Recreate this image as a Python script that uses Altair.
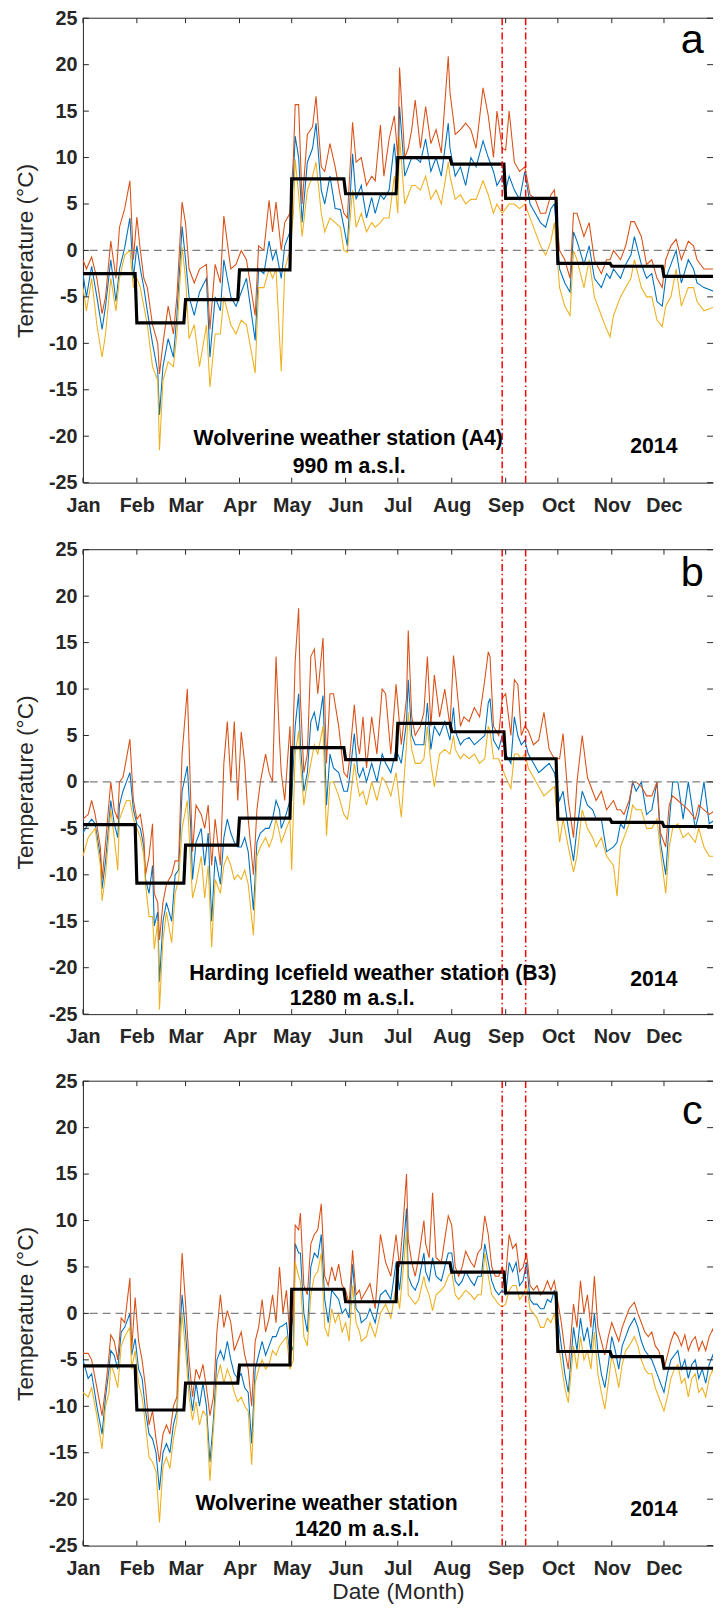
import altair as alt
import pandas as pd

MONTH_NAMES = ["Jan", "Feb", "Mar", "Apr", "May", "Jun", "Jul", "Aug", "Sep", "Oct", "Nov", "Dec"]
MONTH_START = [0, 31, 59, 90, 120, 151, 181, 212, 243, 273, 304, 334]
Y_TICKS = [-25, -20, -15, -10, -5, 0, 5, 10, 15, 20, 25]
MARKER_DAYS = [241, 254.5]

# ---------------- Panel a : Wolverine A4, 990 m ----------------
A_DAY = [0, 2, 5, 8, 11, 13, 16, 19, 21, 24,
         27, 29, 31, 33, 35, 37, 40, 43, 44, 46,
         49, 52, 54, 57, 59, 61, 64, 67, 71, 73,
         76, 79, 81, 85, 88, 91, 94, 99, 101, 104,
         107, 109, 111, 114, 116, 119, 121, 122, 124, 126,
         129, 132, 134, 137, 139, 142, 145, 148, 150, 152,
         155, 157, 160, 163, 166, 168, 171, 173, 176, 179,
         181, 182, 185, 187, 189, 191, 194, 197, 200, 203,
         206, 210, 211, 214, 217, 220, 223, 226, 230, 233,
         236, 238, 241, 243, 245, 248, 251, 254, 257, 260,
         263, 266, 269, 271, 274, 277, 280, 282, 284, 288,
         291, 294, 298, 301, 303, 305, 309, 312, 315, 317,
         321, 324, 327, 330, 333, 335, 338, 341, 344, 348,
         351, 353, 357, 364]
A_MAX = [-1, -2, -0.7, -3, -6.8, -5, 1, -3, 2.5, 4.5,
         7.5, -1, 3.6, 0, -3, -4, -8, -10, -13.3, -10,
         -6, -9, -5, 5.2, 2.9, -2, -3.5, -2, -1.5, -8.5,
         -1.5, -3.5, 3.7, -2, -1.5, 0, -1, -7, 0.5, 0,
         5.4, 2, 5.2, 0, 3, 4, 10, 15.7, 15.7, 5,
         12.5, 13.3, 16.6, 9, 8.5, 11.5, 9, 5.8, 4, 3.5,
         13.8, 9.5, 10, 7, 8, 7.5, 13.5, 8, 12, 14.5,
         10, 19.7, 10, 11, 13, 16.2, 11, 15.5, 11.5, 13,
         10.5, 20.9, 17, 12.5, 13, 13.7, 13, 11, 17.5, 14.5,
         10, 15, 11, 10.8, 15, 9.5, 8.5, 9, 6, 5.5,
         4, 4, 6, 6.5, 0, -1, -3, 4, 4, 1.5,
         3, -1, -2.5, -1, -1, 0, -1, 0.5, 3.1, 3.1,
         1.5, -1.5, -1, -3, -4, -1, 0.5, 1.2, -1, 1,
         0.5, -1, -2, -2]
A_MEAN = [-2.5, -5, -1.7, -5, -8.5, -6, -1, -5.5, -2, 0.3,
          3.5, -3, 0.5, -2, -4, -6.5, -10, -13, -17.7, -12.5,
          -9.5, -11.5, -7, 2.6, -1, -5, -7, -4.5, -3, -11.5,
          -5, -6.5, -1, -5, -6, -4.5, -3, -9.7, -2, -2.5,
          1, -1, 0, -3, 0.5, 2, 8, 12.3, 10, 3,
          9.5, 11, 13.7, 6.5, 5, 8, 4.5, 4.4, 2.5, 0.5,
          10.4, 5.5, 7, 3.5, 5.7, 4, 6, 5.5, 6.5, 11.5,
          7, 15.5, 8, 9, 10, 10, 9.5, 12, 8.5, 10,
          8, 13.7, 11, 8, 9, 7, 10, 9, 11.8, 10,
          8.5, 7, 8, 6.5, 8, 6.5, 5.5, 8.5, 5, 4,
          3, 2.5, 4.5, 5, -2, -3.5, -4.5, 2, 1, -1.5,
          0.5, -3, -4, -2.5, -3, -2, -3, -1.5, -0.5, 1.5,
          -1.5, -3, -2.5, -5.5, -6, -3, -1.5, 0, -3.5, -1,
          -2, -3.5, -4, -4.5]
A_MIN = [-4, -6.5, -3, -8, -11.5, -9, -3, -6.5, -3, -0.5,
         0, -4, -3, -4, -6, -8, -12.5, -14, -21.5, -14,
         -12, -12.5, -9, 0.4, -3, -9.5, -8, -12.5, -8, -14.7,
         -9, -9, -5, -8, -9, -7.5, -8, -13.2, -4, -4,
         -2, -3, -2, -13, -2, 0, 4, 9.8, 6, 1.5,
         6.5, 8, 9.5, 4, 2, 3.5, 3, 2.5, 0, -0.2,
         6.5, 2.5, 4, 2, 3, 2.5, 3, 3.5, 3.5, 8,
         4, 12.2, 5, 6, 7, 7, 6.5, 8, 5.5, 6.5,
         5, 9.5, 8, 5.5, 6, 5, 5.5, 5.5, 7.5, 6,
         4, 5, 4, 4.5, 5, 5, 4.5, 5, 3.5, 2,
         0.5, -0.5, 1, 3, -4, -6, -7, 0, -1, -4,
         -1, -5, -7, -8.5, -9.3, -7, -5, -4, -3, -1,
         -4, -5, -5, -7.5, -8.2, -6, -5, -2, -6, -4,
         -4, -5.5, -6.5, -6]
A_MONTH = [-2.5, -7.8, -5.3, -2.1, 7.7, 6.1, 10.0, 9.3, 5.6, -1.4, -1.7, -2.8]

# ---------------- Panel b : Harding Icefield B3, 1280 m ----------------
B_DAY = [0, 3, 5, 7, 10, 11, 13, 16, 18, 20,
         21, 23, 25, 27, 29, 31, 33, 35, 36, 38,
         40, 41, 43, 44, 46, 48, 51, 53, 55, 57,
         60, 62, 63, 65, 68, 70, 72, 74, 76, 79,
         81, 83, 85, 87, 89, 91, 93, 95, 98, 100,
         102, 105, 107, 109, 111, 113, 114, 116, 119, 120,
         122, 124, 125, 127, 129, 131, 133, 135, 138, 140,
         142, 144, 147, 150, 152, 153, 156, 158, 159, 161,
         163, 166, 169, 172, 174, 177, 180, 183, 186, 187,
         189, 191, 194, 196, 198, 200, 202, 205, 208, 211,
         213, 214, 217, 219, 222, 225, 228, 231, 233, 234,
         236, 239, 241, 243, 246, 248, 250, 252, 254, 256,
         259, 262, 265, 268, 271, 274, 276, 279, 282, 284,
         287, 290, 293, 295, 298, 301, 305, 307, 309, 311,
         314, 316, 318, 321, 324, 327, 330, 332, 335, 337,
         339, 342, 345, 348, 352, 354, 357, 360, 364]
B_MAX = [-4, -3.5, -2, -3.5, -7, -10.5, -6.5, 0, -3, -4,
         0, 0.5, 2.5, 4.6, -2, -4, -3.5, -6, -10, -8,
         -4.5, -12, -13, -17, -13, -11, -10, -8.5, -8.5, 3,
         10, -2, -7.5, -2.5, -3.5, -5, -2.5, -9, -4, -9,
         2, 6.5, 0, 6.5, -2, 5.4, 2, -4, -10, -3,
         0, 3, 1, 0, 13.5, 4.5, 1, -2, 6, 0,
         13, 18.7, 9, 1, 3, 13.5, 14.3, 9.5, 15.5, 2,
         9.5, 9.5, 6, 1, 0.5, 2, 8.3, 4, 3, 7,
         1.5, 7, 3, 10, 9.5, 3, 10.5, 4, 9, 16.3,
         7, 5, 6, 7.5, 13.5, 6, 11.5, 7, 10, 6,
         13.6, 12, 6, 7, 6.5, 8, 7, 11, 14, 13.5,
         6, 5, 9, 9.5, 5, 11, 10.5, 5, 6, 5.5,
         4, 4.5, 7.5, 3.5, 2.5, 2.5, 5.2, -2, -6, 0,
         5, 0.5, -1, -2, -1, -3, -2, -3, -3, -3.5,
         -2, 0, 0, -0.5, -1.5, -1.5, 0, -5.5, -7, -2.5,
         -1.5, -2, -2.5, -3, -4, -2.5, -3, -3.5, -3]
B_MEAN = [-5.5, -4.5, -4, -4.5, -8, -11.5, -8.5, -2, -4.5, -6,
          -2.5, -1, 0, 1, -3, -4.5, -5, -7, -10.5, -12,
          -9, -15.5, -14, -21.5, -15, -13, -15, -10, -9.5, -1,
          1.7, -5, -10.5, -6.5, -5, -9, -5.5, -15, -8, -11,
          -6, -4, -5.5, -6.5, -7, -7, -6, -7.5, -13.8, -6.5,
          -5.5, -5, -5, -4, -2, -3, -5, -4, -2, -2,
          6, 9.5, 4, -1, 1, 6.5, 7.5, 5.5, 9.3, -2.5,
          3, 1.5, 1, -1, -1, 0, 5.2, 1, 0.5, 1.5,
          0, 2, 0, 3, 2, 1, 3.5, 2, 6.5, 11,
          5, 4, 4, 4, 8.5, 3.5, 6, 5, 6.5, 4.5,
          8, 5.5, 4, 4.5, 4.8, 4, 4.5, 5, 8.5, 9,
          4.5, 3.5, 5, 3, 2, 7, 5, 4, 4.5, 3,
          2, 1, 1.5, 2, 1, -2, -1, -5, -8.5, -5,
          -1, -2.5, -3, -4, -4, -7.5, -7, -6.5, -4.5, -5,
          -2.5, 0, -1, 0, -3.5, -3, 0, -6.5, -10, -4.5,
          0, 0, -4, 0, -5, -3.5, 0, -4.5, -4]
B_MIN = [-8, -6, -5.5, -5, -9, -12.8, -10, -3, -6, -9.5,
         -4, -3, -2, -2, -4, -5, -6, -8, -11, -14.5,
         -14.5, -18, -15, -24.5, -17, -14, -17.3, -12, -10.5, -5,
         -2, -9, -12.5, -11, -8, -12.5, -9, -17.8, -10.5, -12,
         -9, -8, -9, -10.5, -10, -10.5, -9.5, -11, -16.5, -8,
         -7, -6, -7, -6, -4, -5.5, -6.5, -5.5, -4, -9.5,
         3, 5.5, 2, -2.5, 0, 2, 4, 3, 6, -5.8,
         0, 0, -1.5, -3.5, -4, -3, 2, -0.5, -1.5, -1,
         -2.5, 0, -2, 0.5, 0, -1.5, 1, -3.8, 4, 7.5,
         3.5, 2, 2, 2.5, 6, 2, -0.5, 3, 3.5, 3,
         5, 3.5, 2.5, 3, 2.5, 3, 2, 2.5, 6, 5.5,
         2.5, 2.5, 1.5, 0.5, -0.7, 3, 3, 2.5, 3, 1.5,
         0.5, -0.5, -1.5, -1, -0.5, -6.5, -4, -7, -9.7, -8,
         -3, -5, -6, -7, -6, -8, -9, -12.3, -7, -6,
         -4.5, -2.5, -3, -3, -5, -5, -4, -7.5, -12, -7,
         -5, -4.5, -6, -5.5, -6.5, -5, -7, -8, -8]
B_MONTH = [-4.6, -10.9, -6.8, -3.9, 3.7, 2.4, 6.3, 5.4, 2.5, -4.0, -4.35, -4.8]

# ---------------- Panel c : Wolverine, 1420 m ----------------
C_DAY = [0, 3, 5, 8, 11, 13, 15, 16, 18, 20,
         22, 24, 27, 28, 30, 32, 34, 36, 38, 40,
         42, 44, 46, 48, 50, 52, 54, 56, 57, 59,
         61, 63, 65, 67, 69, 71, 73, 75, 77, 79,
         81, 83, 85, 87, 89, 91, 93, 95, 97, 99,
         101, 103, 105, 107, 109, 111, 113, 115, 117, 119,
         121, 122, 124, 125, 127, 129, 131, 133, 135, 137,
         139, 141, 143, 145, 147, 149, 151, 153, 155, 157,
         159, 160, 163, 165, 168, 171, 174, 177, 180, 182,
         184, 186, 187, 189, 191, 193, 196, 197, 199, 201,
         203, 206, 208, 210, 212, 214, 216, 218, 220, 223,
         225, 227, 229, 231, 233, 235, 237, 239, 241, 243,
         245, 247, 249, 251, 253, 255, 257, 259, 261, 263,
         265, 267, 269, 271, 275, 277, 279, 282, 284, 286,
         288, 290, 292, 294, 296, 298, 300, 302, 304, 306,
         308, 310, 312, 314, 317, 319, 321, 323, 325, 327,
         329, 331, 334, 336, 338, 340, 342, 344, 346, 348,
         350, 352, 354, 356, 358, 360, 362, 364]
C_MAX = [-4.3, -4.3, -5, -8, -11, -8, -4.5, -2.3, -3, -5,
         -0.5, -1, 3.8, -4, 1.7, -3, -5, -8, -12, -10.5,
         -13.5, -16, -13, -12, -13, -10, -9, 2, 6.5, 1,
         -5, -9, -6, -7, -5.5, -8, -11, -9, -2, 2,
         -1.5, 0.3, -1, -4, -3, -2, -4.5, -6, -10, -3,
         -1.5, 1.5, -2, -0.5, 2, -1, 5, 0, 2.5, -2.5,
         0, 9.5, 9, 10.8, 3, 2, 7.5, 8.5, 9, 11.8,
         4, 3, 5, 3.5, 5.3, 3, 2.5, 1, 6.8, 2,
         2.5, 1.5, 2.5, 3.2, 0.5, 8.5, 5.5, 4, 8.5, 5,
         9.5, 15, 8, 5.5, 4, 6, 10, 7.5, 6, 13,
         6, 5.5, 8, 10.5, 9.5, 5, 4, 5, 6.7, 5.5,
         5, 6.5, 7, 10.5, 8.5, 5, 4, 4, 5, 4,
         8.5, 7, 7.5, 4.5, 5, 6.5, 3, 2.5, 3, 2,
         2.5, 3.5, 2.5, 3.5, -1, -4, -6, 1, -1.5, 3.5,
         0, 2, -1.5, 4, -1.5, -3, -4.5, -2.5, -1, -2,
         -3, -1.5, -0.5, 0.5, 1.2, 0, -1, -2, -2.5, -2,
         -3.5, -4, -6, -4.5, -3, -2, -2.5, -3.5, -2.3, -4,
         -3, -2.5, -4, -3, -4, -2.5, -1.7, -3]
C_MEAN = [-5, -7, -6.5, -10, -13, -9, -6, -4, -4.5, -6,
          -2, -1.5, 0, -4.5, -2.7, -6, -7, -10.5, -13, -13.5,
          -15, -19, -15, -14, -15, -12, -10.5, -1, 2, -2,
          -7.5, -10.5, -7.5, -10, -7.5, -10, -16, -11.5, -5, -4,
          -5, -3, -5, -6.5, -7, -6.5, -8, -8.5, -14, -6,
          -4.5, -3, -4.5, -3.5, -2.5, -2.5, -1.5, -1.3, -1, -4.5,
          -3.5, 7.5, 6.5, 6.5, 0, -2, 5, 6.5, 6, 8.5,
          1.5, -1, 2.5, 2, 1.5, 0, 0.5, -0.5, 5.3, 0.5,
          0, -1, -0.5, 0.5, -1, 2, 2.5, 1.5, 5.5, 2.5,
          6.5, 11.3, 4, 3, 2.5, 3.5, 6.5, 4.5, 3.5, 6,
          4, 3.5, 5, 6.5, 6.5, 3.5, 3, 3.5, 4.5, 3.5,
          3, 4, 4, 7.5, 5.5, 3.5, 2.5, 2, 2.5, 2,
          5.5, 4.5, 5.5, 3, 3.5, 5.5, 1.5, 1, 1, 0.5,
          0.5, 1.5, 1.2, 2.5, -3.5, -6.5, -8.5, -1.5, -4, -0.5,
          -3, -1.5, -4, 0, -4, -6.5, -8, -5.5, -2.5, -4,
          -6, -3.5, -2.5, -1.5, -0.5, -1.5, -3, -4, -4.5, -5,
          -6, -7, -8.5, -6.5, -5, -4.5, -4, -6, -5, -7,
          -5.5, -5, -7, -6, -7.5, -5.5, -4.5, -6]
C_MIN = [-8.5, -9, -8, -11, -14.6, -10, -8.5, -5.5, -6.5, -8,
         -3.5, -2.5, -1.5, -6, -4, -7.5, -9, -12, -15.5, -16,
         -17, -22.5, -16.5, -15.5, -16.7, -13.5, -11.5, -3, 0, -4,
         -9, -11.5, -9.5, -12, -10.5, -11, -18, -12.5, -7, -5.5,
         -7.5, -6, -7, -8.5, -9.5, -9, -10, -10.5, -16.3, -7.5,
         -6, -5, -6, -5.5, -4, -4.5, -3.5, -3, -2.5, -6,
         -5, 5.5, 4, 3.5, -2.5, -3.5, 2, 4, 4.5, 6.5,
         -1.5, -2.5, 0.5, -1, 0, -2, -1, -3, 3, -1,
         -2, -3, -2.5, -1, -2.5, 0, 1, -0.5, 3, 0.5,
         4.5, 8.8, 2, 1.5, 1, 1.5, 4, 3, 2, 0.3,
         2, 2.5, 3, 4, 4.5, 2, 1.5, 2, 2.5, 2,
         1.5, 2, 2, 6.5, 4, 2, 1.5, 1, 0.7, 1,
         2.5, 3, 3, 1.5, 2, 3, 0.5, 0, -0.5, -1.5,
         -1.5, -0.5, -1, 0, -5.5, -8, -9.6, -3.5, -6, -2.5,
         -5, -4, -6, -2, -6.5, -8.5, -10.3, -7.5, -4.5, -6,
         -8, -5.5, -4, -3.5, -2.5, -3.5, -5, -6, -6.5, -6.5,
         -8, -9, -10.5, -9, -7, -6, -5.5, -7.5, -7, -9,
         -7, -6.5, -8.5, -8, -9, -7, -6, -8]
C_MONTH = [-5.65, -10.4, -7.5, -5.55, 2.6, 1.25, 5.45, 4.45, 2.2, -4.1, -4.65, -5.9]

# ---------------- styling ----------------
W, H = 639, 471
X_END = 362.2
FONT = "Liberation Sans"
AXIS_GRAY = "#262626"
BLUE, RED, YELLOW = "#0072BD", "#D95319", "#EDB120"

LABEL_EXPR = ("[" + ",".join("'%s'" % m for m in MONTH_NAMES) + "][indexof(["
              + ",".join(str(d) for d in MONTH_START) + "], datum.value)]")


def step_frame(monthly):
    days, temps = [], []
    for i, m in enumerate(monthly):
        start = MONTH_START[i]
        end = MONTH_START[i + 1] - 1 if i < 11 else 364
        days += [start, end]
        temps += [m, m]
    return pd.DataFrame({"day": days, "temp": temps})


def text_layer(txt, x, y, size, weight):
    return alt.Chart(pd.DataFrame({"t": [txt]})).mark_text(
        font=FONT, fontSize=size, fontWeight=weight, align="center",
        baseline="alphabetic", color="black"
    ).encode(text="t:N", x=alt.value(x), y=alt.value(y))


def panel(days, tmax, tmean, tmin, monthly, letter, letter_y, texts, bottom):
    n = min(len(days), len(tmax), len(tmean), len(tmin))
    df = pd.DataFrame({"day": days[:n], "tmax": tmax[:n], "tmean": tmean[:n], "tmin": tmin[:n]})
    xs = alt.Scale(domain=[0, X_END], nice=False, zero=False)
    ys = alt.Scale(domain=[-25, 25], nice=False, zero=False)
    xaxis = alt.Axis(values=MONTH_START, labelExpr=LABEL_EXPR, ticks=False, grid=False,
                     labelPadding=13, labelFlush=False, labelOverlap=False,
                     title="Date (Month)" if bottom else "", titlePadding=3)
    yaxis = alt.Axis(values=Y_TICKS, labelExpr="'' + datum.value", ticks=False, grid=False,
                     labelPadding=6, labelFlush=False, labelOverlap=False,
                     title="Temperature (°C)", titlePadding=11)

    def X(field):
        return alt.X(field, scale=xs, axis=xaxis)

    def Y(field):
        return alt.Y(field, scale=ys, axis=yaxis)

    base = alt.Chart(df)
    blue = base.mark_line(color=BLUE, strokeWidth=1.1, clip=True).encode(x=X("day:Q"), y=Y("tmean:Q"))
    red = base.mark_line(color=RED, strokeWidth=1.1, clip=True).encode(x=X("day:Q"), y=Y("tmax:Q"))
    yel = base.mark_line(color=YELLOW, strokeWidth=1.1, clip=True).encode(x=X("day:Q"), y=Y("tmin:Q"))
    zero = alt.Chart(pd.DataFrame({"v": [0]})).mark_rule(
        color="#808080", strokeWidth=1.3, strokeDash=[8, 5]).encode(y=Y("v:Q"))
    step = alt.Chart(step_frame(monthly)).mark_line(color="black", strokeWidth=3.2, clip=True).encode(
        x=X("day:Q"), y=Y("temp:Q"))
    marks = alt.Chart(pd.DataFrame({"day": MARKER_DAYS})).mark_rule(
        color="#FF0000", strokeWidth=1.5, strokeDash=[7, 3, 1.5, 3]).encode(x=X("day:Q"))
    mdf = pd.DataFrame({"day": MONTH_START})
    tick_b = alt.Chart(mdf).mark_rule(color=AXIS_GRAY, strokeWidth=1).encode(
        x=X("day:Q"), y=alt.value(H), y2=alt.value(H - 5))
    tick_t = alt.Chart(mdf).mark_rule(color=AXIS_GRAY, strokeWidth=1).encode(
        x=X("day:Q"), y=alt.value(0), y2=alt.value(5))
    ydf = pd.DataFrame({"v": Y_TICKS})
    tick_l = alt.Chart(ydf).mark_rule(color=AXIS_GRAY, strokeWidth=1).encode(
        y=Y("v:Q"), x=alt.value(0), x2=alt.value(6))
    tick_r = alt.Chart(ydf).mark_rule(color=AXIS_GRAY, strokeWidth=1).encode(
        y=Y("v:Q"), x=alt.value(W), x2=alt.value(W - 6))
    top = alt.Chart(pd.DataFrame({"v": [25]})).mark_rule(color=AXIS_GRAY, strokeWidth=1).encode(
        y=Y("v:Q"))
    layers = [blue, red, yel, zero, step, marks, tick_b, tick_t, tick_l, tick_r, top]
    for (txt, x, y) in texts:
        layers.append(text_layer(txt, x, y, 21.5, "bold"))
    layers.append(text_layer(letter, 618, letter_y, 42, "normal"))
    return alt.layer(*layers).properties(width=W, height=H)


pa = panel(A_DAY, A_MAX, A_MEAN, A_MIN, A_MONTH, "a", 35,
           [("Wolverine weather station (A4)", 269, 433), ("990 m a.s.l.", 270, 461), ("2014", 579, 441)],
           False)
pb = panel(B_DAY, B_MAX, B_MEAN, B_MIN, B_MONTH, "b", 37,
           [("Harding Icefield weather station (B3)", 294, 436), ("1280 m a.s.l.", 273, 462), ("2014", 579, 442)],
           False)
pc = panel(C_DAY, C_MAX, C_MEAN, C_MIN, C_MONTH, "c", 43,
           [("Wolverine weather station", 247, 435), ("1420 m a.s.l.", 278, 461), ("2014", 579, 441)],
           True)

chart = alt.vconcat(pa, pb, pc, spacing=68, bounds="flush").properties(
    padding={"left": 6, "top": -12, "right": 0, "bottom": 0},
).configure_view(stroke="transparent").configure_axis(
    labelFont=FONT, labelFontSize=20, labelFontWeight="bold", labelColor=AXIS_GRAY,
    titleFont=FONT, titleFontSize=23, titleFontWeight="normal", titleColor=AXIS_GRAY,
    domainColor=AXIS_GRAY, domainWidth=1,
)

chart.save("out.html", embed_options={"renderer": "svg", "actions": False})
